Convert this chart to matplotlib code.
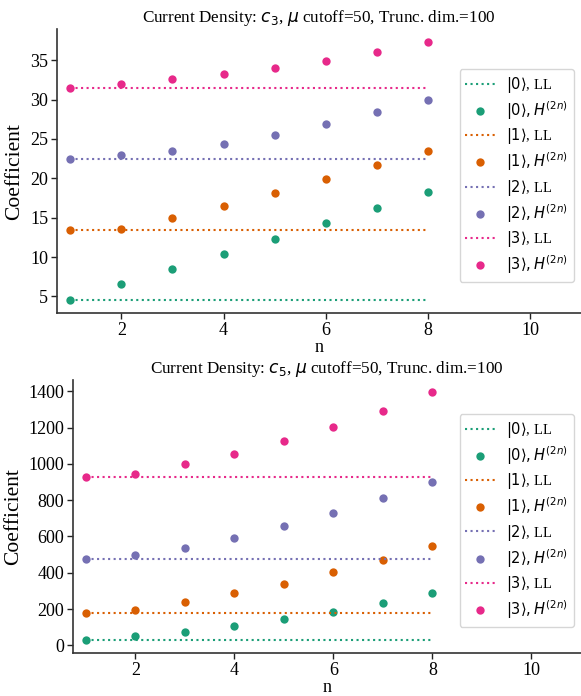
import matplotlib
matplotlib.use("Agg")
import matplotlib.pyplot as plt
from matplotlib.ticker import MultipleLocator
import numpy as np

plt.rcParams['font.family'] = ['Liberation Serif', 'DejaVu Serif']
plt.rcParams['mathtext.fontset'] = 'dejavusans'

n_vals = [1, 2, 3, 4, 5, 6, 7, 8]
states = ["0", "1", "2", "3"]
colors = ["#1b9e77", "#d95f02", "#7570b3", "#e7298a"]

# c3 panel
c3_LL = [4.5, 13.5, 22.46, 31.5]
c3_H = [
    [4.5, 6.52, 8.47, 10.41, 12.35, 14.34, 16.28, 18.27],
    [13.5, 13.62, 14.93, 16.5, 18.14, 19.88, 21.65, 23.5],
    [22.46, 22.92, 23.43, 24.36, 25.5, 26.85, 28.39, 29.96],
    [31.5, 32.0, 32.6, 33.25, 34.0, 34.95, 36.05, 37.3],
]

# c5 panel
c5_LL = [29, 179, 478, 927]
c5_H = [
    [29, 49, 76, 107, 143, 186, 233, 288],
    [179, 197, 237, 286, 340, 402, 471, 545],
    [478, 498, 539, 592, 659, 731, 813, 903],
    [927, 947, 998, 1057, 1125, 1204, 1294, 1394],
]

titles = [r"Current Density: $c_3$, $\mu$ cutoff=50, Trunc. dim.=100",
          r"Current Density: $c_5$, $\mu$ cutoff=50, Trunc. dim.=100"]
ystep = [5, 200]

fig = plt.figure(figsize=(5.81, 6.96), dpi=100)
ax1 = fig.add_axes([0.0986, 0.5499, 1.0 - 0.0986, 0.958 - 0.5499])
ax2 = fig.add_axes([0.126, 0.0625, 1.0 - 0.126, 0.454 - 0.0625])

for k, (ax, LL, H, title) in enumerate([(ax1, c3_LL, c3_H, titles[0]), (ax2, c5_LL, c5_H, titles[1])]):
    for i, s in enumerate(states):
        ax.plot([n_vals[0], n_vals[-1]], [LL[i], LL[i]], linestyle=':', color=colors[i],
                lw=1.5, label=r"$|%s\rangle$, LL" % s)
        ax.plot(n_vals, H[i], 'o', color=colors[i], ms=6, markeredgewidth=0,
                label=r"$|%s\rangle, H^{(2n)}$" % s)
    ax.set_xlim(0.745, 11.0)
    ax.set_xticks([2, 4, 6, 8, 10])
    ax.yaxis.set_major_locator(MultipleLocator(ystep[k]))
    ax.set_title(title, fontsize=12.3, pad=5)
    ax.set_xlabel("n", fontsize=13, labelpad=0)
    ax.set_ylabel("Coefficient", fontsize=15.5, labelpad=4)
    ax.tick_params(labelsize=13, length=4, width=1, colors='#222222', pad=2.5)
    ax.tick_params(labelcolor='black')
    for sp in ['top', 'right']:
        ax.spines[sp].set_visible(False)
    for sp in ['left', 'bottom']:
        ax.spines[sp].set_color('#333333')
        ax.spines[sp].set_linewidth(1.2)
    ax.legend(loc='center right', bbox_to_anchor=(1.0, 0.485), fontsize=10.5, framealpha=0.8,
              edgecolor='#cccccc', borderaxespad=0.5, labelspacing=0.3)

fig.savefig("out.png", dpi=100)
